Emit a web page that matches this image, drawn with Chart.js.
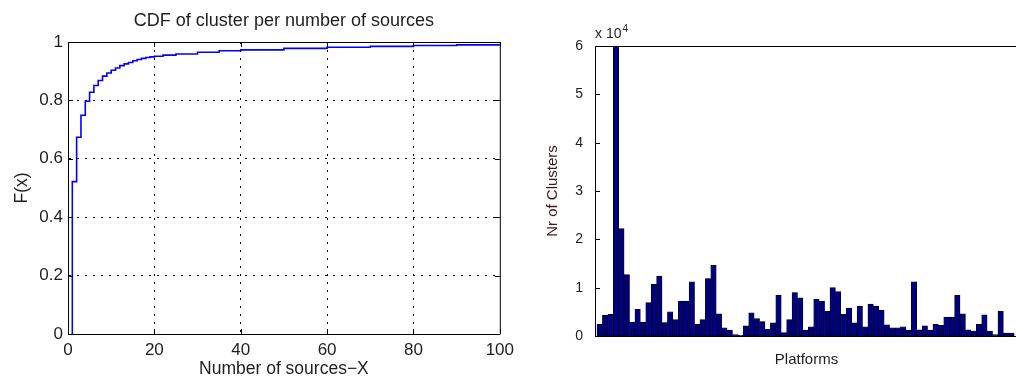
<!DOCTYPE html>
<html lang="en">
<head>
    <meta charset="UTF-8">
    <title>Clusters per sources / platforms</title>
    <script src="https://cdn.jsdelivr.net/npm/chart.js"></script>
    <style>
        html, body { margin: 0; padding: 0; background: #fff; overflow: hidden; }
        .panel { position: absolute; top: 0; height: 382px; }
        #leftPanel { left: 0; width: 520px; }
        #rightPanel { left: 520px; width: 500px; }
    </style>
</head>
<body>
    <div class="panel" id="leftPanel"><canvas id="cdfChart"></canvas></div>
    <div class="panel" id="rightPanel"><canvas id="platformChart"></canvas></div>

    <script>
        // CDF: number of sources (x) and F(x)
        const sourceCounts = [1, 2, 3, 4, 5, 6, 7, 8, 9, 10, 11, 12, 13, 14, 15, 16, 17, 18, 19, 20,
                              22, 25, 30, 35, 40, 50, 60, 70, 80, 90, 100];
        const cdfValues = [0.522, 0.674, 0.749, 0.797, 0.828, 0.851, 0.868, 0.883, 0.894, 0.903,
                           0.911, 0.919, 0.925, 0.930, 0.936, 0.940, 0.944, 0.947, 0.949, 0.951,
                           0.955, 0.959, 0.965, 0.970, 0.973, 0.978, 0.982, 0.985, 0.988, 0.990, 0.992];

        // Clusters per platform (one bar each)
        const clustersPerPlatform = [2400, 4300, 4500, 60000, 22200, 12700, 2900, 5500, 2900, 6900,
                                     10700, 12400, 2800, 5000, 3400, 7200, 7200, 11200, 2400, 3400,
                                     11900, 14600, 4600, 1700, 1200, 300, 200, 2100, 4800, 3600,
                                     3000, 1400, 2700, 8400, 700, 3400, 9000, 7900, 1200, 1900,
                                     7600, 7200, 5100, 10000, 9200, 4500, 5800, 2700, 6200, 1900,
                                     6600, 6200, 5300, 2300, 1700, 1700, 1900, 1200, 11200, 1300,
                                     2100, 1200, 2400, 2200, 3900, 3900, 8400, 4600, 1300, 1000,
                                     2400, 4400, 1000, 300, 5100, 600, 600];
        const clusterTicks = [0, 1, 2, 3, 4, 5, 6];   // in units of 10^4

        const FONT = "'Liberation Sans', Arial, Helvetica, sans-serif";
        const TEXT = '#1e1e1e';

        // box + inward tick marks, matlab style
        function framePlugin(sides) {
            return {
                id: 'frame',
                afterDraw(chart) {
                    const a = chart.chartArea;
                    const c = chart.ctx;
                    c.save();
                    c.strokeStyle = '#000';
                    c.lineWidth = 1;
                    c.beginPath();
                    c.moveTo(a.left + 0.5, a.bottom + 0.5);
                    c.lineTo(a.left + 0.5, a.top + 0.5);
                    c.lineTo(a.right + 0.5, a.top + 0.5);
                    if (sides.right) c.lineTo(a.right + 0.5, a.bottom + 0.5);
                    c.stroke();
                    const len = 5;
                    c.beginPath();
                    if (sides.xTicks) {
                        chart.scales.x.ticks.forEach(t => {
                            const px = Math.round(chart.scales.x.getPixelForValue(t.value)) + 0.5;
                            c.moveTo(px, a.bottom); c.lineTo(px, a.bottom - len);
                            c.moveTo(px, a.top); c.lineTo(px, a.top + len);
                        });
                    }
                    chart.scales.y.ticks.forEach(t => {
                        const py = Math.round(chart.scales.y.getPixelForValue(t.value)) + 0.5;
                        c.moveTo(a.left, py); c.lineTo(a.left + len, py);
                        if (sides.right) { c.moveTo(a.right, py); c.lineTo(a.right - len, py); }
                    });
                    c.stroke();
                    c.restore();
                }
            };
        }

        // ---- left: CDF step plot ----
        const cdfPoints = [{x: sourceCounts[0], y: 0}].concat(
            sourceCounts.map((s, i) => ({x: s, y: cdfValues[i]}))
        );

        const innerGrid = (lo, hi) => ctx =>
            (ctx.tick && (ctx.tick.value === lo || ctx.tick.value === hi)) ? 'rgba(0,0,0,0)' : '#000';

        new Chart(document.getElementById('cdfChart'), {
            type: 'line',
            data: {
                datasets: [{
                    data: cdfPoints,
                    borderColor: '#0000ff',
                    borderWidth: 1.6,
                    pointRadius: 0,
                    stepped: 'before',
                    fill: false
                }]
            },
            options: {
                responsive: true,
                maintainAspectRatio: false,
                animation: false,
                layout: { padding: { left: 0, right: 18, top: 0, bottom: 0 } },
                plugins: {
                    legend: { display: false },
                    tooltip: { enabled: false },
                    title: {
                        display: true,
                        fullSize: false,
                        text: 'CDF of cluster per number of sources',
                        color: TEXT,
                        font: { family: FONT, size: 18, weight: 'normal' },
                        padding: { top: 10, bottom: 10.4 }
                    }
                },
                scales: {
                    x: {
                        type: 'linear',
                        min: 0, max: 100,
                        ticks: { stepSize: 20, padding: 6, color: TEXT, font: { family: FONT, size: 17 } },
                        grid: { color: innerGrid(0, 100), drawTicks: false, lineWidth: 1 },
                        border: { display: true, color: '#000', width: 1, dash: [2, 6] },
                        title: {
                            display: true, text: 'Number of sources\u2212X', color: TEXT,
                            font: { family: FONT, size: 17.5 }, padding: { top: 0, bottom: 2 }
                        },
                        afterFit(scale) { scale.height = 48; }
                    },
                    y: {
                        min: 0, max: 1,
                        ticks: {
                            stepSize: 0.2, padding: 5, color: TEXT, font: { family: FONT, size: 17 },
                            callback: v => String(Math.round(v * 10) / 10)
                        },
                        grid: { color: innerGrid(0, 1), drawTicks: false, lineWidth: 1 },
                        border: { display: true, color: '#000', width: 1, dash: [2, 6] },
                        title: {
                            display: true, text: 'F(x)', color: TEXT,
                            font: { family: FONT, size: 17.5 }, padding: { top: 12, bottom: 0 }
                        },
                        afterFit(scale) { scale.width = 68; }
                    }
                }
            },
            plugins: [framePlugin({ right: true, xTicks: true })]
        });

        // ---- right: clusters per platform ----
        const exponentLabel = {
            id: 'exponentLabel',
            afterDraw(chart) {
                const a = chart.chartArea;
                const c = chart.ctx;
                c.save();
                c.fillStyle = TEXT;
                c.textBaseline = 'alphabetic';
                c.font = '14px ' + FONT;
                c.fillText('x 10', a.left, a.top - 8);
                const w = c.measureText('x 10').width;
                c.font = '10px ' + FONT;
                c.fillText('4', a.left + w + 1, a.top - 14);
                c.restore();
            }
        };

        new Chart(document.getElementById('platformChart'), {
            type: 'bar',
            data: {
                datasets: [{
                    data: clustersPerPlatform.map((v, i) => ({x: i + 1, y: v})),
                    backgroundColor: '#00007f',
                    borderColor: '#000',
                    borderWidth: 0.7,
                    borderSkipped: false,
                    barPercentage: 1,
                    categoryPercentage: 1
                }]
            },
            options: {
                responsive: true,
                maintainAspectRatio: false,
                animation: false,
                layout: { padding: { left: 0, right: 2, top: 46, bottom: 0 } },
                plugins: {
                    legend: { display: false },
                    tooltip: { enabled: false }
                },
                scales: {
                    x: {
                        type: 'linear',
                        offset: false,
                        min: 0.13, max: 78.2,
                        ticks: { display: false },
                        grid: { display: false, offset: false },
                        border: { display: true, color: '#000', width: 1 },
                        title: {
                            display: true, text: 'Platforms', color: TEXT,
                            font: { family: FONT, size: 15 }, padding: { top: 0, bottom: 13 }
                        },
                        afterFit(scale) { scale.height = 46; }
                    },
                    y: {
                        min: 0, max: clusterTicks[clusterTicks.length - 1] * 10000,
                        afterBuildTicks(scale) {
                            scale.ticks = clusterTicks.map(t => ({ value: t * 10000 }));
                        },
                        ticks: {
                            padding: 4, color: TEXT, font: { family: FONT, size: 14 },
                            callback: v => String(v / 10000)
                        },
                        grid: { display: false },
                        border: { display: true, color: '#000', width: 1 },
                        title: {
                            display: true, text: 'Nr of Clusters', color: '#3a1c1c',
                            font: { family: FONT, size: 15 }, padding: { top: 24, bottom: 0 }
                        },
                        afterFit(scale) { scale.width = 75; }
                    }
                }
            },
            plugins: [framePlugin({ right: false, xTicks: false }), exponentLabel]
        });
    </script>
</body>
</html>
